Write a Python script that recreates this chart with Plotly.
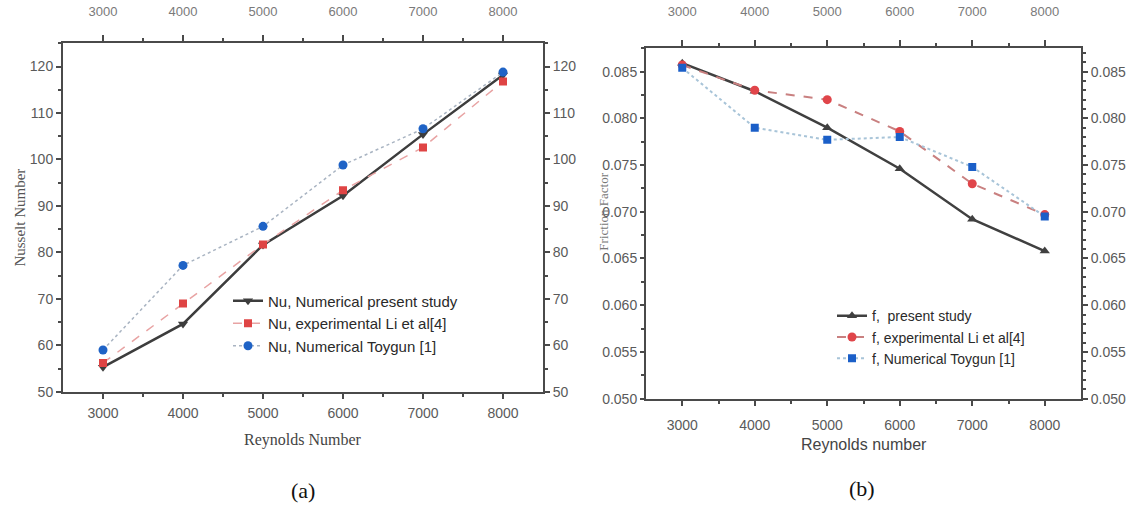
import plotly.graph_objects as go

W, H = 1127, 512

reynolds = [3000, 4000, 5000, 6000, 7000, 8000]
x_tick_labels = ["3000", "4000", "5000", "6000", "7000", "8000"]

nu_present = [55.3, 64.6, 81.6, 92.2, 105.4, 118.2]
nu_li = [56.2, 69.0, 81.7, 93.4, 102.6, 116.8]
nu_toygun = [59.0, 77.2, 85.6, 98.8, 106.6, 118.8]

f_present = [0.0859, 0.0829, 0.0790, 0.0746, 0.0692, 0.0658]
f_li = [0.0857, 0.0830, 0.0820, 0.0786, 0.0730, 0.0697]
f_toygun = [0.0854, 0.0790, 0.0777, 0.0780, 0.0748, 0.0695]

nu_names = ["Nu, Numerical present study", "Nu, experimental Li et al[4]", "Nu, Numerical Toygun [1]"]
f_names = ["f,  present study", "f, experimental Li et al[4]", "f, Numerical Toygun [1]"]

def px_x(v):
    return v / W

def px_y(v):
    return 1 - v / H

# panel boxes in pixels
A = dict(l=63, r=543, t=44, b=398)
B = dict(l=646, r=1081, t=49, b=405)

fig = go.Figure()

# ---- panel (a)
fig.add_trace(go.Scatter(x=reynolds, y=nu_present, name=nu_names[0], mode="lines+markers",
                         line=dict(color="#3d3d3d", width=2.5),
                         marker=dict(symbol="triangle-down", size=9, color="#3d3d3d"),
                         xaxis="x", yaxis="y", legend="legend"))
fig.add_trace(go.Scatter(x=reynolds, y=nu_li, name=nu_names[1], mode="lines+markers",
                         line=dict(color="#e8a3a3", width=1.5, dash="dash"),
                         marker=dict(symbol="square", size=8, color="#df4444"),
                         xaxis="x", yaxis="y", legend="legend"))
fig.add_trace(go.Scatter(x=reynolds, y=nu_toygun, name=nu_names[2], mode="lines+markers",
                         line=dict(color="#a9b4c2", width=1.5, dash="dot"),
                         marker=dict(symbol="circle", size=9, color="#1f63c6"),
                         xaxis="x", yaxis="y", legend="legend"))
# carrier for the mirrored top/right axes of panel (a)
fig.add_trace(go.Scatter(x=reynolds, y=nu_present, mode="markers", marker=dict(opacity=0),
                         hoverinfo="skip", showlegend=False, xaxis="x3", yaxis="y3"))

# ---- panel (b)
fig.add_trace(go.Scatter(x=reynolds, y=f_present, name=f_names[0], mode="lines+markers",
                         line=dict(color="#404040", width=2.5),
                         marker=dict(symbol="triangle-up", size=9, color="#404040"),
                         xaxis="x2", yaxis="y2", legend="legend2"))
fig.add_trace(go.Scatter(x=reynolds, y=f_li, name=f_names[1], mode="lines+markers",
                         line=dict(color="#c98080", width=2, dash="dash"),
                         marker=dict(symbol="circle", size=9, color="#e0454a"),
                         xaxis="x2", yaxis="y2", legend="legend2"))
fig.add_trace(go.Scatter(x=reynolds, y=f_toygun, name=f_names[2], mode="lines+markers",
                         line=dict(color="#a8c4d8", width=2, dash="dot"),
                         marker=dict(symbol="square", size=8, color="#1b5fc8"),
                         xaxis="x2", yaxis="y2", legend="legend2"))
fig.add_trace(go.Scatter(x=reynolds, y=f_present, mode="markers", marker=dict(opacity=0),
                         hoverinfo="skip", showlegend=False, xaxis="x4", yaxis="y4"))

tickfont = dict(family="Liberation Sans, Arial, sans-serif", size=14, color="#5a5a5a")
topfont = dict(family="Liberation Sans, Arial, sans-serif", size=13, color="#7a7a7a")
linecol = "#4a4a4a"

def xax(dom, anchor, side="bottom", overlaying=None, font=tickfont, standoff=None, ticklen=5):
    d = dict(domain=dom, anchor=anchor, side=side, range=[2500, 8500],
             tickmode="array", tickvals=reynolds, ticktext=x_tick_labels,
             ticks="outside", ticklen=ticklen, tickwidth=1.5, tickcolor=linecol,
             minor=dict(tickvals=[3500, 4500, 5500, 6500, 7500], ticklen=3, tickcolor=linecol, ticks="outside"),
             showline=True, linecolor=linecol, linewidth=2, showgrid=False, zeroline=False,
             tickfont=font, fixedrange=True)
    if standoff is not None:
        d["ticklabelstandoff"] = standoff
    if overlaying:
        d["overlaying"] = overlaying
    return d

def yax(dom, anchor, rng, dtick, minor_dtick, side="left", overlaying=None, fmt=None, ticklen=5):
    d = dict(domain=dom, anchor=anchor, side=side, range=rng,
             tick0=rng[0], dtick=dtick,
             ticks="outside", ticklen=ticklen, tickwidth=1.5, tickcolor=linecol,
             minor=dict(tick0=rng[0], dtick=minor_dtick, ticklen=3, tickcolor=linecol, ticks="outside"),
             showline=True, linecolor=linecol, linewidth=2, showgrid=False, zeroline=False,
             tickfont=tickfont, fixedrange=True)
    if fmt:
        d["tickformat"] = fmt
    if overlaying:
        d["overlaying"] = overlaying
    return d

ax_dom = [px_x(A["l"]), px_x(A["r"])]
ay_dom = [px_y(A["b"]), px_y(A["t"])]
bx_dom = [px_x(B["l"]), px_x(B["r"])]
by_dom = [px_y(B["b"]), px_y(B["t"])]

fig.update_layout(
    width=W, height=H,
    margin=dict(l=0, r=0, t=0, b=0),
    paper_bgcolor="white", plot_bgcolor="white",
    xaxis=xax(ax_dom, "y", standoff=2),
    yaxis=yax(ay_dom, "x", [50, 125], 10, 5),
    xaxis3=xax(ax_dom, "y3", side="top", overlaying="x", font=topfont, standoff=14, ticklen=6),
    yaxis3=yax(ay_dom, "x3", [50, 125], 10, 5, side="right", overlaying="y"),
    xaxis2=xax(bx_dom, "y2", standoff=8),
    yaxis2=yax(by_dom, "x2", [0.050, 0.0875], 0.005, 0.0025, fmt=".3f", ticklen=4),
    xaxis4=xax(bx_dom, "y4", side="top", overlaying="x2", font=topfont, standoff=19, ticklen=6),
    yaxis4=yax(by_dom, "x4", [0.050, 0.0875], 0.005, 0.001, side="right", overlaying="y2", fmt=".3f", ticklen=5),
    legend=dict(x=px_x(228), y=px_y(289), xanchor="left", yanchor="top",
                bgcolor="rgba(0,0,0,0)", font=dict(family="Liberation Sans, Arial, sans-serif", size=15, color="#2a2a2a"),
                tracegroupgap=0, itemwidth=30),
    legend2=dict(x=px_x(832), y=px_y(305), xanchor="left", yanchor="top",
                 bgcolor="rgba(0,0,0,0)", font=dict(family="Liberation Sans, Arial, sans-serif", size=14, color="#2a2a2a"),
                 tracegroupgap=0, itemwidth=30),
    showlegend=True,
)

serif = "Liberation Serif, Times New Roman, serif"
sans = "Liberation Sans, Arial, sans-serif"
annos = [
    dict(text="Nusselt Number", x=px_x(20), y=px_y(221), textangle=-90,
         font=dict(family=serif, size=15, color="#555")),
    dict(text="Reynolds Number", x=px_x(303), y=px_y(447),
         font=dict(family=serif, size=16, color="#444")),
    dict(text="Friction Factor", x=px_x(604), y=px_y(215), textangle=-90,
         font=dict(family=serif, size=13, color="#777")),
    dict(text="Reynolds number", x=px_x(864), y=px_y(452),
         font=dict(family=sans, size=16, color="#444")),
    dict(text="(a)", x=px_x(303), y=px_y(498),
         font=dict(family=serif, size=22, color="#111")),
    dict(text="(b)", x=px_x(862), y=px_y(496),
         font=dict(family=serif, size=22, color="#111")),
]
for a in annos:
    a.update(xref="paper", yref="paper", showarrow=False, xanchor="center", yanchor="middle")
fig.update_layout(annotations=annos)

fig.write_html("out.html")
